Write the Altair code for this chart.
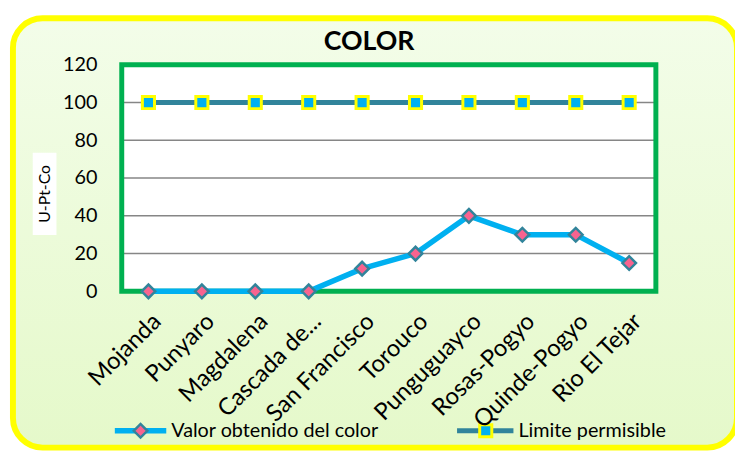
import altair as alt
import pandas as pd

sitios = ["Mojanda", "Punyaro", "Magdalena", "Cascada de...", "San Francisco",
          "Torouco", "Punguguayco", "Rosas-Pogyo", "Quinde-Pogyo", "Rio El Tejar"]
valor_color = [0, 0, 0, 0, 12, 20, 40, 30, 30, 15]
limite = [100, 100, 100, 100, 100, 100, 100, 100, 100, 100]
grid_vals = [20, 40, 60, 80, 100, 120]
serie_valor = "Valor obtenido del color"
serie_limite = "Limite permisible"
titulo = "COLOR"
y_titulo = "U-Pt-Co"

W, H = 540, 229
FONT = "Lato"
CYAN = "#00B0F0"
TEAL = "#31849B"
PINK = "#F8638F"
YELLOW = "#FFFF00"
GREEN = "#00B050"

df = pd.DataFrame({"sitio": sitios, "valor": valor_color, "limite": limite})
grid = pd.DataFrame({"g": grid_vals})
one = pd.DataFrame({"k": [0]})

xenc = alt.X("sitio:N", sort=sitios, title=None,
             axis=alt.Axis(labelAngle=-45, labelFontSize=24, labelFont=FONT,
                           labelColor="black", domain=False, ticks=False,
                           labelPadding=18, grid=False, zindex=1))
yscale = alt.Scale(domain=[0, 120])
yaxis = alt.Axis(values=[0, 20, 40, 60, 80, 100, 120], labelFontSize=20,
                 labelFont=FONT, labelColor="black", domain=False, ticks=False,
                 labelPadding=25, grid=False, title=y_titulo, titleFont=FONT,
                 titleFontSize=16, titleFontWeight="normal", titleColor="black",
                 titleX=-78, titleY=130, titleAngle=-90, titleAlign="center",
                 titleBaseline="middle", zindex=1)

bg_fill = alt.Gradient(gradient="linear", x1=0, y1=0, x2=0, y2=1,
                       stops=[alt.GradientStop(color="#F3FDE9", offset=0),
                              alt.GradientStop(color="#E5F9CA", offset=1)])

bg = alt.Chart(one).mark_rect(fill=bg_fill, stroke=YELLOW, strokeWidth=6,
                              cornerRadius=30).encode(
    x=alt.value(-110), x2=alt.value(622), y=alt.value(-47), y2=alt.value(387))

plot_bg = alt.Chart(one).mark_rect(fill="white").encode(
    x=alt.value(0), x2=alt.value(W), y=alt.value(0), y2=alt.value(H))

ytitle_box = alt.Chart(one).mark_rect(fill="white").encode(
    x=alt.value(-90), x2=alt.value(-66), y=alt.value(89), y2=alt.value(172))

grid_rules = alt.Chart(grid).mark_rule(color="#868686", strokeWidth=1.5).encode(
    y=alt.Y("g:Q", scale=yscale, axis=yaxis))

border = alt.Chart(one).mark_rect(fill=None, stroke=GREEN, strokeWidth=5).encode(
    x=alt.value(0), x2=alt.value(W), y=alt.value(0), y2=alt.value(H))

lim_line = alt.Chart(df).mark_line(color=TEAL, strokeWidth=5).encode(
    x=xenc, y=alt.Y("limite:Q", scale=yscale, axis=yaxis))
lim_pts = alt.Chart(df).mark_point(shape="square", filled=True, fill=CYAN,
                                   stroke=YELLOW, strokeWidth=3, size=150,
                                   opacity=1).encode(
    x=xenc, y=alt.Y("limite:Q", scale=yscale, axis=yaxis))

val_line = alt.Chart(df).mark_line(color=CYAN, strokeWidth=5.5).encode(
    x=xenc, y=alt.Y("valor:Q", scale=yscale, axis=yaxis))
val_pts = alt.Chart(df).mark_point(shape="diamond", filled=True, fill=PINK,
                                   stroke=TEAL, strokeWidth=2.5, size=190,
                                   opacity=1).encode(
    x=xenc, y=alt.Y("valor:Q", scale=yscale, axis=yaxis))

LY = 370
leg1_line = alt.Chart(one).mark_rule(color=CYAN, strokeWidth=5.5).encode(
    x=alt.value(-7), x2=alt.value(45), y=alt.value(LY))
leg1_pt = alt.Chart(one).mark_point(shape="diamond", filled=True, fill=PINK,
                                    stroke=TEAL, strokeWidth=2.5, size=190,
                                    opacity=1).encode(
    x=alt.value(19), y=alt.value(LY))
leg1_txt = alt.Chart(one).mark_text(text=serie_valor, align="left",
                                    baseline="middle", font=FONT, fontSize=20,
                                    color="black").encode(
    x=alt.value(50), y=alt.value(LY))
leg2_line = alt.Chart(one).mark_rule(color=TEAL, strokeWidth=5).encode(
    x=alt.value(339), x2=alt.value(396), y=alt.value(LY))
leg2_pt = alt.Chart(one).mark_point(shape="square", filled=True, fill=CYAN,
                                    stroke=YELLOW, strokeWidth=3, size=150,
                                    opacity=1).encode(
    x=alt.value(368), y=alt.value(LY))
leg2_txt = alt.Chart(one).mark_text(text=serie_limite, align="left",
                                    baseline="middle", font=FONT, fontSize=20,
                                    color="black").encode(
    x=alt.value(401), y=alt.value(LY))

title_txt = alt.Chart(one).mark_text(text=titulo, align="center",
                                     baseline="middle", font=FONT, fontSize=27,
                                     fontWeight="bold", color="black").encode(
    x=alt.value(250), y=alt.value(-23))

chart = alt.layer(
    bg, plot_bg, ytitle_box, grid_rules, border, lim_line, lim_pts,
    val_line, val_pts, leg1_line, leg1_pt, leg1_txt, leg2_line, leg2_pt,
    leg2_txt, title_txt
).properties(
    width=W, height=H,
    autosize=alt.AutoSizeParams(type="none"),
    padding={"left": 115, "top": 55, "right": 80, "bottom": 159},
    background="white",
).configure_view(stroke=None)

chart.save("out.html", embed_options={"renderer": "svg", "actions": False})
